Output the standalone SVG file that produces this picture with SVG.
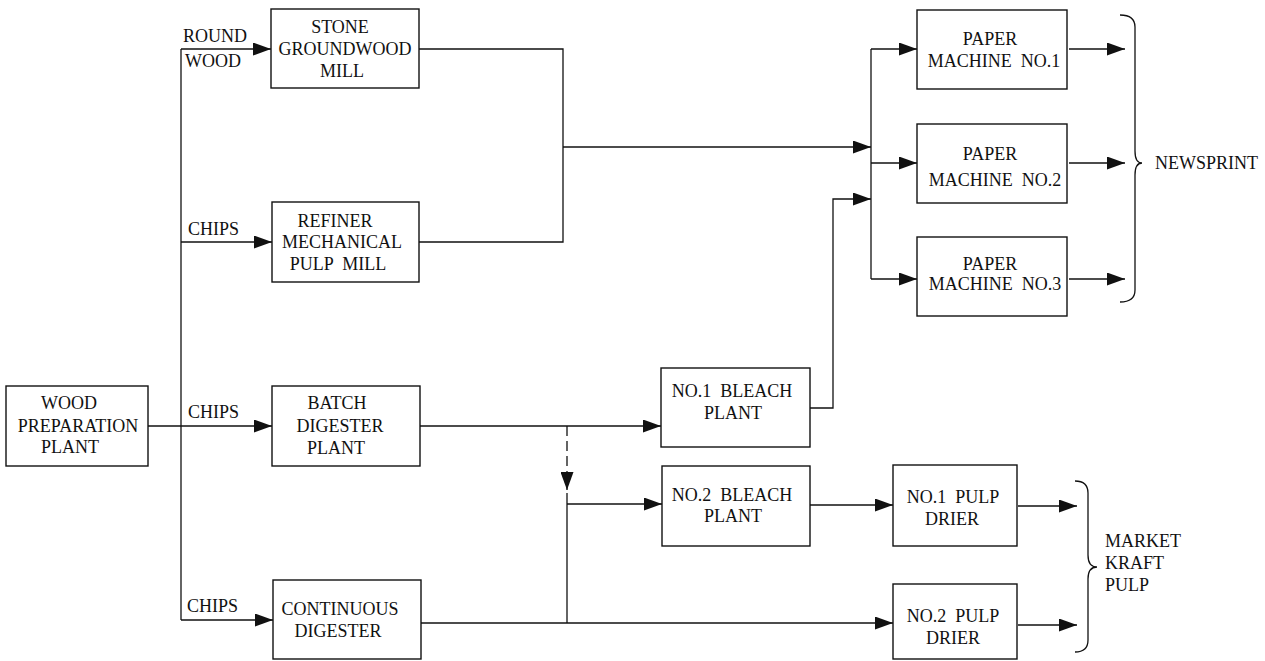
<svg xmlns="http://www.w3.org/2000/svg" width="1265" height="661" viewBox="0 0 1265 661">
<style>
.box{fill:#fff;stroke:#111;stroke-width:1.4}
.t{font-family:"Liberation Serif","Times New Roman",serif;font-size:18px;fill:#111;text-anchor:middle;white-space:pre}
.l{font-family:"Liberation Serif","Times New Roman",serif;font-size:18px;fill:#111}
.c{fill:none;stroke:#111;stroke-width:1.3}
.a{marker-end:url(#arr)}
.d{stroke-dasharray:10 5}
</style>
<defs>
<marker id="arr" markerUnits="userSpaceOnUse" markerWidth="19" markerHeight="13" refX="18" refY="6.5" orient="auto">
<path d="M0,0 L18,6.5 L0,13 z" fill="#111"/>
</marker>
</defs>
<rect width="1265" height="661" fill="#fff"/>
<g id="connectors">
<path class="c" d="M181,49 V620"/>
<path class="c a" d="M181,49 H271"/>
<path class="c a" d="M181,242 H272"/>
<path class="c a" d="M148,426 H272"/>
<path class="c a" d="M181,620 H273"/>
<path class="c" d="M419,49 H563 V242 H419"/>
<path class="c a" d="M563,147 H871"/>
<path class="c a" d="M810,408 H833 V199 H871"/>
<path class="c" d="M871,49 V279"/>
<path class="c a" d="M871,49 H917"/>
<path class="c a" d="M871,163 H917"/>
<path class="c a" d="M871,279 H917"/>
<path class="c a" d="M1069,49 H1125"/>
<path class="c a" d="M1069,163 H1125"/>
<path class="c a" d="M1069,279 H1125"/>
<path class="c a" d="M420,426 H661"/>
<path class="c d a" d="M567,426 V490"/>
<path class="c" d="M567,493 V623"/>
<path class="c a" d="M567,504 H662"/>
<path class="c a" d="M421,623 H893"/>
<path class="c a" d="M810,505 H893"/>
<path class="c a" d="M1018,506 H1077"/>
<path class="c a" d="M1018,625 H1077"/>
<path class="c" d="M1120,15 Q1135,15 1135,27 V151 Q1135,163 1142,163 Q1135,163 1135,175 V290 Q1135,302 1120,302"/>
<path class="c" d="M1075,481 Q1088,481 1088,493 V555 Q1088,567 1097,567 Q1088,567 1088,579 V640 Q1088,652 1075,652"/>
</g>
<g id="labels">
<text class="l" x="183" y="42">ROUND</text>
<text class="l" x="185" y="67">WOOD</text>
<text class="l" x="188" y="235">CHIPS</text>
<text class="l" x="188" y="418">CHIPS</text>
<text class="l" x="187" y="612">CHIPS</text>
<text class="l" x="1155" y="169">NEWSPRINT</text>
<text class="l" x="1105" y="547">MARKET</text>
<text class="l" x="1105" y="569">KRAFT</text>
<text class="l" x="1105" y="591">PULP</text>
</g>
<g id="wood-prep">
<rect class="box" x="6" y="386" width="142" height="80"/>
<text class="t" x="69" y="409">WOOD</text>
<text class="t" x="78" y="432">PREPARATION</text>
<text class="t" x="70" y="453">PLANT</text>
</g>
<g id="stone-groundwood">
<rect class="box" x="271" y="9" width="148" height="79"/>
<text class="t" x="340" y="33">STONE</text>
<text class="t" x="345" y="55">GROUNDWOOD</text>
<text class="t" x="342" y="77">MILL</text>
</g>
<g id="refiner">
<rect class="box" x="272" y="202" width="147" height="80"/>
<text class="t" x="335" y="227">REFINER</text>
<text class="t" x="342" y="248">MECHANICAL</text>
<text class="t" x="338" y="270">PULP  MILL</text>
</g>
<g id="batch-digester">
<rect class="box" x="272" y="386" width="148" height="80"/>
<text class="t" x="337" y="409">BATCH</text>
<text class="t" x="340" y="432">DIGESTER</text>
<text class="t" x="336" y="454">PLANT</text>
</g>
<g id="continuous-digester">
<rect class="box" x="273" y="580" width="148" height="79"/>
<text class="t" x="340" y="615">CONTINUOUS</text>
<text class="t" x="338" y="637">DIGESTER</text>
</g>
<g id="bleach1">
<rect class="box" x="661" y="368" width="149" height="79"/>
<text class="t" x="732" y="397">NO.1  BLEACH</text>
<text class="t" x="733" y="419">PLANT</text>
</g>
<g id="bleach2">
<rect class="box" x="662" y="466" width="148" height="80"/>
<text class="t" x="732" y="501">NO.2  BLEACH</text>
<text class="t" x="733" y="522">PLANT</text>
</g>
<g id="pm1">
<rect class="box" x="917" y="10" width="150" height="79"/>
<text class="t" x="990" y="45">PAPER</text>
<text class="t" x="994" y="67">MACHINE  NO.1</text>
</g>
<g id="pm2">
<rect class="box" x="917" y="124" width="150" height="79"/>
<text class="t" x="990" y="160">PAPER</text>
<text class="t" x="995" y="186">MACHINE  NO.2</text>
</g>
<g id="pm3">
<rect class="box" x="917" y="237" width="150" height="79"/>
<text class="t" x="990" y="270">PAPER</text>
<text class="t" x="995" y="290">MACHINE  NO.3</text>
</g>
<g id="drier1">
<rect class="box" x="893" y="465" width="124" height="81"/>
<text class="t" x="953" y="503">NO.1  PULP</text>
<text class="t" x="952" y="525">DRIER</text>
</g>
<g id="drier2">
<rect class="box" x="893" y="584" width="124" height="75"/>
<text class="t" x="953" y="622">NO.2  PULP</text>
<text class="t" x="953" y="644">DRIER</text>
</g>
</svg>
